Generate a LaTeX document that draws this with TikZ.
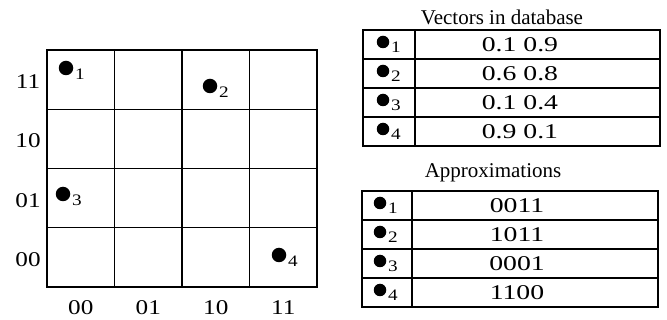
\documentclass[tikz,border=0pt]{standalone}
\usepackage{fontspec}
\setmainfont{Liberation Serif}
\newfontfamily\digitfont[FakeStretch=1.2]{Liberation Serif}
\newfontfamily\entryfont[FakeStretch=1.32]{Liberation Serif}
\usetikzlibrary{positioning}

\begin{document}
\begin{tikzpicture}[x=1pt, y=-1pt,
        % Line and node styles
        rule/.style={line width=1.2pt},
        dot/.style={circle, fill=black, inner sep=0pt, minimum width=14.5pt, minimum height=13pt},
        tdot/.style={circle, fill=black, inner sep=0pt, minimum width=12.5pt, minimum height=11.5pt},
        idx/.style={inner sep=0pt, font=\digitfont\fontsize{16}{16}\selectfont},
        axislabel/.style={inner sep=0pt, font=\digitfont\fontsize{21}{24}\selectfont},
        heading/.style={inner sep=0pt, font=\fontsize{21}{24}\selectfont},
        entry/.style={inner sep=0pt, font=\entryfont\fontsize{21}{24}\selectfont}
    ]
    \useasboundingbox (0,0) rectangle (667,320);

    % 4x4 grid
    \draw[rule] (47,50) rectangle (317,287);
    \foreach \i in {1,2,3} {
        \draw[rule] (47+67.5*\i,50) -- (47+67.5*\i,287);
        \draw[rule] (47,50+59.25*\i) -- (317,50+59.25*\i);
    }

    % Axis labels
    \foreach \lab [count=\r] in {11,10,01,00}
        \node[axislabel] (row\r) at (28,50+59.25*\r-27.5) {\lab};
    \foreach \lab [count=\c] in {00,01,10,11}
        \node[axislabel] (col\c) at (47+67.5*\c-33.75,308) {\lab};

    % Points
    \node[dot] (p1) at (66,68) {};
    \node[dot] (p2) at (210,86) {};
    \node[dot] (p3) at (63,194) {};
    \node[dot] (p4) at (279,255) {};
    \foreach \p in {1,2,3,4}
        \node[idx, right=1.5pt of p\p.east, yshift=-6pt] (s\p) {\p};

    % Vectors in database
    \node[heading] (vtitle) at (502,17) {Vectors in database};
    \draw[rule] (363,30) rectangle (660,146);
    \draw[rule] (415,30) -- (415,146);
    \foreach \i in {1,2,3}
        \draw[rule] (363,30+29*\i) -- (660,30+29*\i);
    \foreach \v [count=\r] in {0.1 0.9, 0.6 0.8, 0.1 0.4, 0.9 0.1} {
        \node[tdot] (vd\r) at (383,30+29*\r-17) {};
        \node[idx, right=1.5pt of vd\r.east, yshift=-5pt] {\r};
        \node[entry] (v\r) at (520,30+29*\r-14) {\v};
    }

    % Approximations
    \node[heading] (atitle) at (493,173) {Approximations};
    \draw[rule] (362,191) rectangle (658,307);
    \draw[rule] (412,191) -- (412,307);
    \foreach \i in {1,2,3}
        \draw[rule] (362,191+29*\i) -- (658,191+29*\i);
    \foreach \v [count=\r] in {0011,1011,0001,1100} {
        \node[tdot] (ad\r) at (380,191+29*\r-17) {};
        \node[idx, right=1.5pt of ad\r.east, yshift=-5pt] {\r};
        \node[entry] (a\r) at (517,191+29*\r-14) {\v};
    }

\end{tikzpicture}
\end{document}
